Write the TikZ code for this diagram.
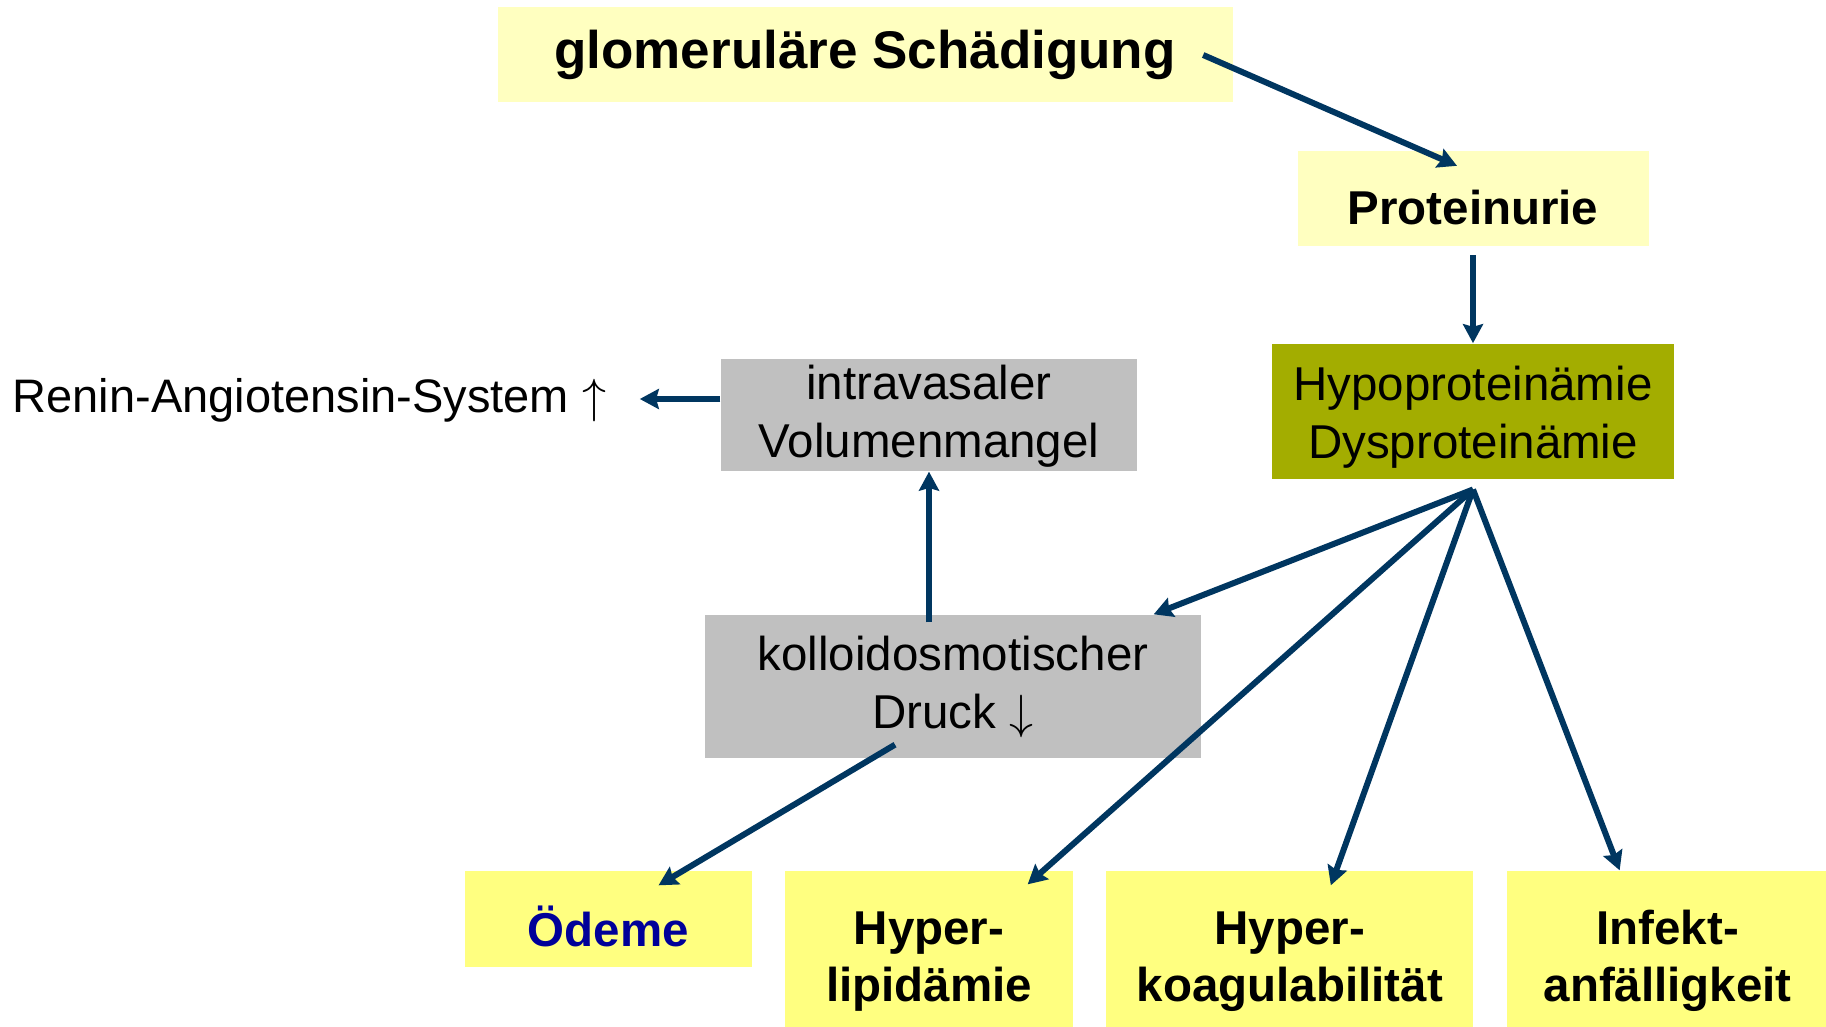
\documentclass[tikz,border=0pt]{standalone}
\usepackage{fontspec}
\setmainfont{Liberation Sans}
\usepackage{xcolor}
\usepackage{tikz}
\usetikzlibrary{arrows.meta,positioning}

\definecolor{paleyellow}{RGB}{255,255,192}
\definecolor{brightyellow}{RGB}{255,255,128}
\definecolor{olivegreen}{RGB}{163,173,0}
\definecolor{boxgrey}{RGB}{192,192,192}
\definecolor{arrowblue}{RGB}{0,54,96}
\definecolor{oedemeblue}{RGB}{0,0,153}

% strut that pushes the first line of a box a little down
\newcommand{\lift}[1]{\rule{0pt}{#1}}

\begin{document}
\begin{tikzpicture}[
    x=0.3pt, y=-0.3pt,
    box/.style={rectangle, inner sep=0pt, align=center, font=\fontsize{14.25}{17.4}\selectfont},
    palebox/.style={box, fill=paleyellow, font=\fontsize{14.25}{17.4}\selectfont\bfseries},
    yellowbox/.style={box, fill=brightyellow, font=\fontsize{14.25}{17.1}\selectfont\bfseries},
    olivebox/.style={box, fill=olivegreen},
    greybox/.style={box, fill=boxgrey},
    arrow/.style={line width=1.8pt, draw=arrowblue, -{Stealth[length=5.7pt,width=6pt,inset=0.8pt]}}
]
    \useasboundingbox (0,0) rectangle (1826,1027);

    \node[palebox, font=\fontsize{15.9}{19}\selectfont\bfseries, minimum width=220.5pt, minimum height=28.5pt] (glom) at (865,55) {glomeruläre Schädigung};
    \node[palebox, minimum width=105.3pt, minimum height=28.5pt] (prot) at (1473,199) {\lift{15.2pt}Proteinurie};
    \node[olivebox, below=28.8pt of prot, minimum width=120.6pt, minimum height=40.5pt] (hypo) {\lift{14pt}Hypoproteinämie\\Dysproteinämie};

    \node[greybox, minimum width=124.8pt, minimum height=33.6pt] (vol) at (929,415) {\lift{11pt}intravasaler\\Volumenmangel};
    \node[greybox, minimum width=148.8pt, minimum height=42.9pt] (kod) at (953,686.5) {kolloidosmotischer\\Druck $\downarrow$};
    \node[anchor=west, inner sep=0pt, font=\fontsize{14.1}{17.4}\selectfont] (ras) at (12,400) {Renin-Angiotensin-System $\uparrow$};

    \node[yellowbox, minimum width=86.1pt, minimum height=28.8pt, text=oedemeblue] (oed) at (608.5,919) {\lift{16.7pt}Ödeme};
    \node[yellowbox, minimum width=86.4pt, minimum height=46.8pt] (lip) at (929,949) {\lift{17.2pt}Hyper-\\lipidämie};
    \node[yellowbox, right=9.6pt of lip, minimum width=110.1pt, minimum height=46.8pt] (koag) {\lift{17.2pt}Hyper-\\koagulabilität};
    \node[yellowbox, right=9.6pt of koag, minimum width=96.6pt, minimum height=46.8pt] (inf) {\lift{17.2pt}Infekt-\\anfälligkeit};

    \draw[arrow] ([shift={(-30,0)}]glom.east) -- ([shift={(-16,15)}]prot.north);
    \draw[arrow] ([shift={(0,8)}]prot.south) -- (hypo.north);
    \draw[arrow] ([shift={(0,-16)}]vol.west) -- ([shift={(33,-1)}]ras.east);
    \draw[arrow] ([shift={(-24,8)}]kod.north) -- (vol.south);

    \coordinate (fan) at ([shift={(0,10)}]hypo.south);
    \draw[arrow] (fan) -- ([shift={(-48,0)}]kod.north east);
    \draw[arrow] (fan) -- ([shift={(-46,14)}]lip.north east);
    \draw[arrow] (fan) -- ([shift={(41,15)}]koag.north);
    \draw[arrow] (fan) -- ([shift={(-48,0)}]inf.north);
    \draw[arrow] ([shift={(-58,-14)}]kod.south) -- ([shift={(50,15)}]oed.north);
\end{tikzpicture}
\end{document}
